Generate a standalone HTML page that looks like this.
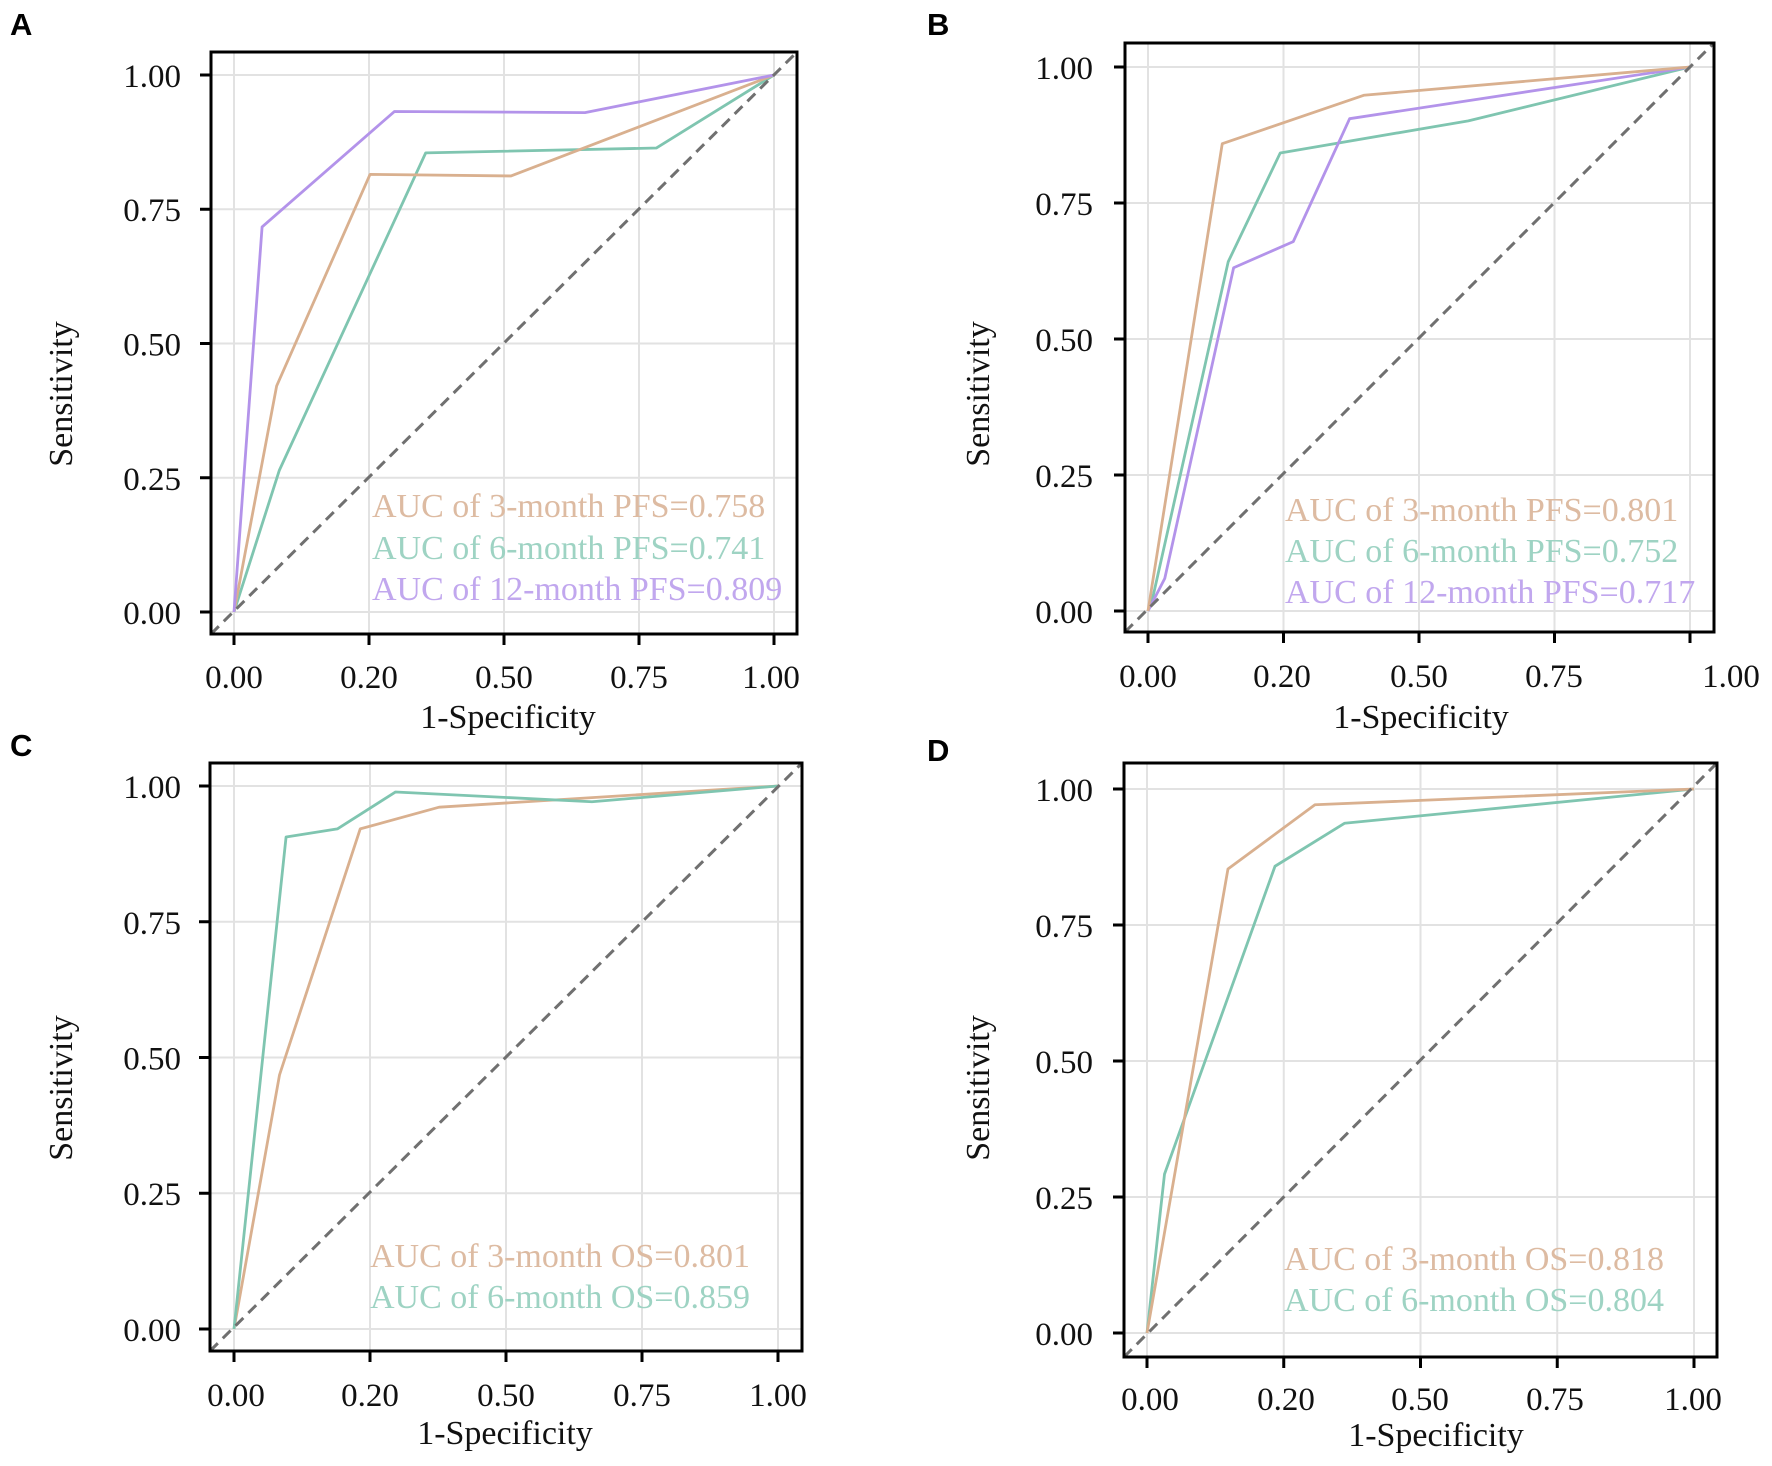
<!DOCTYPE html>
<html>
<head>
<meta charset="utf-8">
<style>
html,body{margin:0;padding:0;background:#fff;width:1772px;height:1466px;overflow:hidden}
svg{display:block}
.tk{font-family:"Liberation Serif",serif;font-size:33px;fill:#111}
.ttl{font-family:"Liberation Serif",serif;font-size:34px;fill:#111}
.lg{font-family:"Liberation Serif",serif;font-size:34px}
.pl{font-family:"Liberation Sans",sans-serif;font-size:31px;font-weight:bold;fill:#000}
.grid line{stroke:#e2e2e2;stroke-width:2}
.cv{fill:none;stroke-width:2.8;vector-effect:non-scaling-stroke;stroke-linejoin:round}
.diag{stroke:#707070;stroke-width:3;stroke-dasharray:11 7}
.frame{fill:none;stroke:#000;stroke-width:3}
.ticks line{stroke:#000;stroke-width:3}
</style>
</head>
<body>
<svg width="1772" height="1466" viewBox="0 0 1772 1466" xmlns="http://www.w3.org/2000/svg">

<!-- ============ PANEL A ============ -->
<text class="pl" x="10" y="35">A</text>
<g class="grid">
<line x1="234" y1="52" x2="234" y2="634"/><line x1="369" y1="52" x2="369" y2="634"/><line x1="504" y1="52" x2="504" y2="634"/><line x1="639" y1="52" x2="639" y2="634"/><line x1="774" y1="52" x2="774" y2="634"/>
<line x1="211" y1="75" x2="797" y2="75"/><line x1="211" y1="209.25" x2="797" y2="209.25"/><line x1="211" y1="343.5" x2="797" y2="343.5"/><line x1="211" y1="477.75" x2="797" y2="477.75"/><line x1="211" y1="612" x2="797" y2="612"/>
</g>
<g transform="translate(234,612) scale(540,-537)">
<polyline class="cv" stroke="#7FC5B0" points="0,0 0.084,0.264 0.355,0.855 0.782,0.864 1,1"/>
<polyline class="cv" stroke="#D9B08F" points="0,0 0.079,0.421 0.252,0.815 0.513,0.812 1,1"/>
<polyline class="cv" stroke="#B393EA" points="0,0 0.052,0.717 0.297,0.932 0.650,0.930 1,1"/>
</g>
<line class="diag" x1="211" y1="634" x2="797" y2="52"/>
<rect class="frame" x="211" y="52" width="586" height="582"/>
<g class="ticks">
<line x1="200" y1="75" x2="211" y2="75"/><line x1="200" y1="209.25" x2="211" y2="209.25"/><line x1="200" y1="343.5" x2="211" y2="343.5"/><line x1="200" y1="477.75" x2="211" y2="477.75"/><line x1="200" y1="612" x2="211" y2="612"/>
<line x1="234" y1="634" x2="234" y2="645"/><line x1="369" y1="634" x2="369" y2="645"/><line x1="504" y1="634" x2="504" y2="645"/><line x1="639" y1="634" x2="639" y2="645"/><line x1="774" y1="634" x2="774" y2="645"/>
</g>
<g class="tk" text-anchor="end">
<text x="181" y="87">1.00</text><text x="181" y="221">0.75</text><text x="181" y="355.5">0.50</text><text x="181" y="490">0.25</text><text x="181" y="624">0.00</text>
</g>
<g class="tk" text-anchor="middle">
<text x="234" y="688">0.00</text><text x="369" y="688">0.20</text><text x="504" y="688">0.50</text><text x="639" y="688">0.75</text><text x="771" y="688">1.00</text>
</g>
<text class="ttl" text-anchor="middle" x="508" y="728">1-Specificity</text>
<text class="ttl" text-anchor="middle" transform="translate(72,394) rotate(-90)" x="0" y="0">Sensitivity</text>
<text class="lg" x="372" y="517" fill="#DDBBA2">AUC of 3-month PFS=0.758</text>
<text class="lg" x="372" y="559" fill="#9ED3C3">AUC of 6-month PFS=0.741</text>
<text class="lg" x="372" y="600" fill="#C1A7EE">AUC of 12-month PFS=0.809</text>

<!-- ============ PANEL B ============ -->
<text class="pl" x="927" y="35">B</text>
<g class="grid">
<line x1="1148" y1="43" x2="1148" y2="632"/><line x1="1283.5" y1="43" x2="1283.5" y2="632"/><line x1="1419" y1="43" x2="1419" y2="632"/><line x1="1554.5" y1="43" x2="1554.5" y2="632"/><line x1="1690" y1="43" x2="1690" y2="632"/>
<line x1="1125" y1="67" x2="1714" y2="67"/><line x1="1125" y1="203" x2="1714" y2="203"/><line x1="1125" y1="339" x2="1714" y2="339"/><line x1="1125" y1="475" x2="1714" y2="475"/><line x1="1125" y1="611" x2="1714" y2="611"/>
</g>
<g transform="translate(1148,611) scale(542,-544)">
<polyline class="cv" stroke="#7FC5B0" points="0,0 0.01,0.03 0.148,0.642 0.244,0.842 0.591,0.901 1,1"/>
<polyline class="cv" stroke="#B393EA" points="0,0 0.031,0.060 0.158,0.631 0.268,0.679 0.372,0.905 1,1"/>
<polyline class="cv" stroke="#D9B08F" points="0,0 0.137,0.859 0.398,0.948 1,1"/>
</g>
<line class="diag" x1="1125" y1="632" x2="1714" y2="43"/>
<rect class="frame" x="1125" y="43" width="589" height="589"/>
<g class="ticks">
<line x1="1114" y1="67" x2="1125" y2="67"/><line x1="1114" y1="203" x2="1125" y2="203"/><line x1="1114" y1="339" x2="1125" y2="339"/><line x1="1114" y1="475" x2="1125" y2="475"/><line x1="1114" y1="611" x2="1125" y2="611"/>
<line x1="1148" y1="632" x2="1148" y2="643"/><line x1="1283.5" y1="632" x2="1283.5" y2="643"/><line x1="1419" y1="632" x2="1419" y2="643"/><line x1="1554.5" y1="632" x2="1554.5" y2="643"/><line x1="1690" y1="632" x2="1690" y2="643"/>
</g>
<g class="tk" text-anchor="end">
<text x="1093" y="79">1.00</text><text x="1093" y="215">0.75</text><text x="1093" y="351">0.50</text><text x="1093" y="487">0.25</text><text x="1093" y="623">0.00</text>
</g>
<g class="tk" text-anchor="middle">
<text x="1148" y="687">0.00</text><text x="1282" y="687">0.20</text><text x="1419" y="687">0.50</text><text x="1554" y="687">0.75</text><text x="1731" y="687">1.00</text>
</g>
<text class="ttl" text-anchor="middle" x="1421" y="728">1-Specificity</text>
<text class="ttl" text-anchor="middle" transform="translate(989,394) rotate(-90)" x="0" y="0">Sensitivity</text>
<text class="lg" x="1285" y="521" fill="#DDBBA2">AUC of 3-month PFS=0.801</text>
<text class="lg" x="1285" y="562" fill="#9ED3C3">AUC of 6-month PFS=0.752</text>
<text class="lg" x="1285" y="603" fill="#C1A7EE">AUC of 12-month PFS=0.717</text>

<!-- ============ PANEL C ============ -->
<text class="pl" x="10" y="756">C</text>
<g class="grid">
<line x1="234" y1="763" x2="234" y2="1351"/><line x1="370" y1="763" x2="370" y2="1351"/><line x1="506" y1="763" x2="506" y2="1351"/><line x1="642" y1="763" x2="642" y2="1351"/><line x1="778" y1="763" x2="778" y2="1351"/>
<line x1="210" y1="786" x2="802" y2="786"/><line x1="210" y1="921.75" x2="802" y2="921.75"/><line x1="210" y1="1057.5" x2="802" y2="1057.5"/><line x1="210" y1="1193.25" x2="802" y2="1193.25"/><line x1="210" y1="1329" x2="802" y2="1329"/>
</g>
<g transform="translate(234,1329) scale(544,-543)">
<polyline class="cv" stroke="#D9B08F" points="0,0 0.0837,0.468 0.232,0.921 0.377,0.961 1,1"/>
<polyline class="cv" stroke="#7FC5B0" points="0,0 0.0957,0.906 0.190,0.921 0.297,0.989 0.658,0.971 1,1"/>
</g>
<line class="diag" x1="210" y1="1351" x2="802" y2="763"/>
<rect class="frame" x="210" y="763" width="592" height="588"/>
<g class="ticks">
<line x1="199" y1="786" x2="210" y2="786"/><line x1="199" y1="921.75" x2="210" y2="921.75"/><line x1="199" y1="1057.5" x2="210" y2="1057.5"/><line x1="199" y1="1193.25" x2="210" y2="1193.25"/><line x1="199" y1="1329" x2="210" y2="1329"/>
<line x1="234" y1="1351" x2="234" y2="1362"/><line x1="370" y1="1351" x2="370" y2="1362"/><line x1="506" y1="1351" x2="506" y2="1362"/><line x1="642" y1="1351" x2="642" y2="1362"/><line x1="778" y1="1351" x2="778" y2="1362"/>
</g>
<g class="tk" text-anchor="end">
<text x="181" y="798">1.00</text><text x="181" y="934">0.75</text><text x="181" y="1069.5">0.50</text><text x="181" y="1205">0.25</text><text x="181" y="1341">0.00</text>
</g>
<g class="tk" text-anchor="middle">
<text x="236" y="1406">0.00</text><text x="370" y="1406">0.20</text><text x="506" y="1406">0.50</text><text x="642" y="1406">0.75</text><text x="778" y="1406">1.00</text>
</g>
<text class="ttl" text-anchor="middle" x="505" y="1444">1-Specificity</text>
<text class="ttl" text-anchor="middle" transform="translate(72,1088) rotate(-90)" x="0" y="0">Sensitivity</text>
<text class="lg" x="370" y="1267" fill="#DDBBA2">AUC of 3-month OS=0.801</text>
<text class="lg" x="370" y="1308" fill="#9ED3C3">AUC of 6-month OS=0.859</text>

<!-- ============ PANEL D ============ -->
<text class="pl" x="927" y="761">D</text>
<g class="grid">
<line x1="1147" y1="763" x2="1147" y2="1357"/><line x1="1283.75" y1="763" x2="1283.75" y2="1357"/><line x1="1420.5" y1="763" x2="1420.5" y2="1357"/><line x1="1557.25" y1="763" x2="1557.25" y2="1357"/><line x1="1694" y1="763" x2="1694" y2="1357"/>
<line x1="1124" y1="789" x2="1717" y2="789"/><line x1="1124" y1="925" x2="1717" y2="925"/><line x1="1124" y1="1061" x2="1717" y2="1061"/><line x1="1124" y1="1197" x2="1717" y2="1197"/><line x1="1124" y1="1333" x2="1717" y2="1333"/>
</g>
<g transform="translate(1147,1333) scale(547,-544)">
<polyline class="cv" stroke="#7FC5B0" points="0,0 0.032,0.292 0.234,0.858 0.361,0.937 1,1"/>
<polyline class="cv" stroke="#D9B08F" points="0,0 0.148,0.853 0.307,0.971 1,1"/>
</g>
<line class="diag" x1="1124" y1="1357" x2="1717" y2="763"/>
<rect class="frame" x="1124" y="763" width="593" height="594"/>
<g class="ticks">
<line x1="1113" y1="789" x2="1124" y2="789"/><line x1="1113" y1="925" x2="1124" y2="925"/><line x1="1113" y1="1061" x2="1124" y2="1061"/><line x1="1113" y1="1197" x2="1124" y2="1197"/><line x1="1113" y1="1333" x2="1124" y2="1333"/>
<line x1="1147" y1="1357" x2="1147" y2="1368"/><line x1="1283.75" y1="1357" x2="1283.75" y2="1368"/><line x1="1420.5" y1="1357" x2="1420.5" y2="1368"/><line x1="1557.25" y1="1357" x2="1557.25" y2="1368"/><line x1="1694" y1="1357" x2="1694" y2="1368"/>
</g>
<g class="tk" text-anchor="end">
<text x="1093" y="801">1.00</text><text x="1093" y="937">0.75</text><text x="1093" y="1073">0.50</text><text x="1093" y="1209">0.25</text><text x="1093" y="1345">0.00</text>
</g>
<g class="tk" text-anchor="middle">
<text x="1150" y="1410">0.00</text><text x="1286" y="1410">0.20</text><text x="1420" y="1410">0.50</text><text x="1555" y="1410">0.75</text><text x="1693" y="1410">1.00</text>
</g>
<text class="ttl" text-anchor="middle" x="1436" y="1446">1-Specificity</text>
<text class="ttl" text-anchor="middle" transform="translate(989,1088) rotate(-90)" x="0" y="0">Sensitivity</text>
<text class="lg" x="1284" y="1270" fill="#DDBBA2">AUC of 3-month OS=0.818</text>
<text class="lg" x="1284" y="1311" fill="#9ED3C3">AUC of 6-month OS=0.804</text>

</svg>
</body>
</html>
